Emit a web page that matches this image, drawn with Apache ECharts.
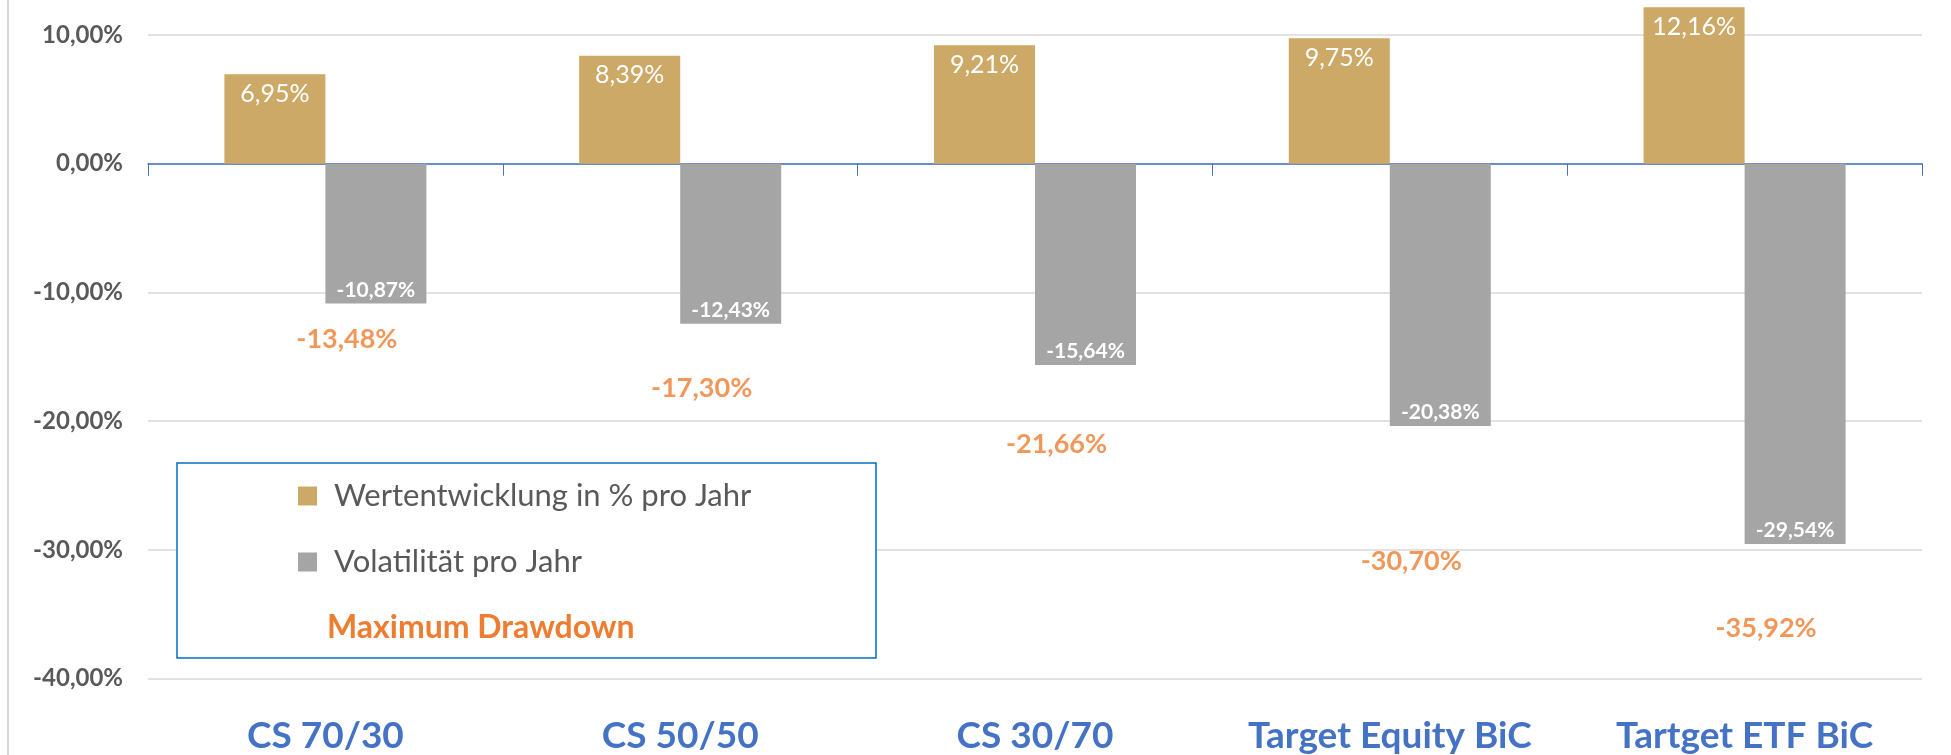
<!DOCTYPE html>
<html>
<head>
<meta charset="utf-8">
<script src="https://cdn.jsdelivr.net/npm/echarts@6/dist/echarts.min.js"></script>
<style>
html,body{margin:0;padding:0;background:#fff;}
#chart{width:1951px;height:755px;}
</style>
</head>
<body>
<div id="chart"></div>
<script>
var categories = ['CS 70/30', 'CS 50/50', 'CS 30/70', 'Target Equity BiC', 'Tartget ETF BiC'];
var performance = [6.95, 8.39, 9.21, 9.75, 12.16];
var volatility = [-10.87, -12.43, -15.64, -20.38, -29.54];
var drawdown = [-13.48, -17.30, -21.66, -30.70, -35.92];
var seriesNames = ['Wertentwicklung in % pro Jahr', 'Volatilität pro Jahr', 'Maximum Drawdown'];

function fmt(v) { return v.toFixed(2).replace('.', ',') + '%'; }

var FONT = 'Lato';
var chart = echarts.init(document.getElementById('chart'));
chart.setOption({
  animation: false,
  backgroundColor: '#ffffff',
  textStyle: { fontFamily: FONT },
  grid: { left: 148, right: 29, top: 35, bottom: 75, containLabel: false },
  xAxis: [
    {
      type: 'category', data: categories, position: 'bottom',
      axisLine: { onZero: true, lineStyle: { color: '#4472C4', width: 1.5 } },
      axisTick: { show: true, length: 12, interval: 0, lineStyle: { color: '#4472C4', width: 1 } },
      axisLabel: { show: false },
      splitLine: { show: false }
    },
    {
      type: 'category', data: categories, position: 'bottom',
      axisLine: { show: false, onZero: false },
      axisTick: { show: false },
      axisLabel: { show: true, interval: 0, color: '#4472C4', fontFamily: FONT, fontWeight: 'bold', fontSize: 37, lineHeight: 36, margin: 40 },
      splitLine: { show: false }
    }
  ],
  yAxis: {
    type: 'value', min: -40, max: 10, interval: 10,
    axisLine: { show: false }, axisTick: { show: false },
    axisLabel: { color: '#595959', fontFamily: FONT, fontWeight: 'bold', fontSize: 24, margin: 25, formatter: function (v) { return fmt(v); } },
    splitLine: { lineStyle: { color: '#D9D9D9', width: 1.5 } }
  },
  legend: {
    orient: 'vertical', left: 298, top: 480, padding: 0, itemGap: 34,
    itemWidth: 19, itemHeight: 19, icon: 'rect', z: 10,
    textStyle: { color: '#595959', fontFamily: FONT, fontSize: 31, lineHeight: 32, padding: [0, 0, 0, 12] },
    data: [
      { name: seriesNames[0] },
      { name: seriesNames[1] },
      { name: seriesNames[2], itemStyle: { opacity: 0 }, textStyle: { color: '#ED7D31', fontWeight: 'bold', fontSize: 32, padding: [0, 0, 0, 5] } }
    ]
  },
  graphic: [
    { type: 'line', z: 1, shape: { x1: 8, y1: 0, x2: 8, y2: 755 }, style: { stroke: '#D9D9D9', lineWidth: 2 } },
    { type: 'rect', z: 3, shape: { x: 177, y: 463, width: 699, height: 195 }, style: { fill: '#ffffff', stroke: '#0070C0', lineWidth: 1.5 } }
  ],
  series: [
    {
      name: seriesNames[0], type: 'bar', data: performance, barWidth: 101, barGap: '0%', clip: false,
      itemStyle: { color: '#CCA966' },
      label: { show: true, position: 'insideTop', distance: 7, color: '#ffffff', fontFamily: FONT, fontSize: 25, formatter: function (p) { return fmt(p.value); } }
    },
    {
      name: seriesNames[1], type: 'bar', data: volatility, barWidth: 101, barGap: '0%', clip: false,
      itemStyle: { color: '#A5A5A5' },
      label: { show: true, position: 'insideBottom', distance: 3, color: '#ffffff', fontFamily: FONT, fontWeight: 'bold', fontSize: 21, formatter: function (p) { return fmt(p.value); } }
    },
    {
      name: seriesNames[2], type: 'scatter', data: drawdown, symbolSize: 1, z: 6,
      itemStyle: { color: 'rgba(0,0,0,0)' },
      label: { show: true, position: 'inside', offset: [21.5, 2], color: '#ED7D31', fontFamily: FONT, fontWeight: 'bold', fontSize: 27, formatter: function (p) { return fmt(p.value); } }
    }
  ]
});
</script>
</body>
</html>
